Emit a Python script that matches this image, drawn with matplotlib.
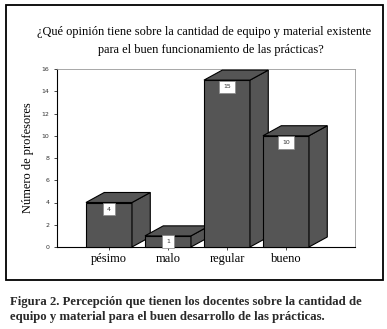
import matplotlib
matplotlib.use("Agg")
import matplotlib.pyplot as plt
from matplotlib.patches import Polygon, Rectangle

categories = ["pésimo", "malo", "regular", "bueno"]
values = [4, 1, 15, 10]
yticks = [0, 2, 4, 6, 8, 10, 12, 14, 16]
title_lines = ["¿Qué opinión tiene sobre la cantidad de equipo y material existente",
               "para el buen funcionamiento de las prácticas?"]
caption_lines = ["Figura 2. Percepción que tienen los docentes sobre la cantidad de",
                 "equipo y material para el buen desarrollo de las prácticas."]
ylabel = "Número de profesores"

W, H = 387, 329
fig = plt.figure(figsize=(W / 100, H / 100), dpi=100)
fig.patch.set_facecolor("white")

# outer border
fig.add_artist(Rectangle((6 / W, 1 - 280 / H), (383 - 6) / W, (280 - 5) / H,
                         transform=fig.transFigure, fill=False, ec="black", lw=1.3))

ax = fig.add_axes([57 / W, 1 - 247 / H, (355 - 57) / W, (247 - 69) / H])
ax.set_xlim(-0.881, 4.17)
ax.set_ylim(0, 16)

serif = "Liberation Serif"
face = "#555555"
bw = 0.78
dx, dy = 0.31, 0.9
for i, v in enumerate(values):
    x0 = i - bw / 2
    x1 = i + bw / 2
    ax.add_patch(Rectangle((x0, 0), bw, v, fc=face, ec="black", lw=0.8, clip_on=False, zorder=3))
    ax.add_patch(Polygon([(x1, 0), (x1 + dx, dy), (x1 + dx, v + dy), (x1, v)],
                         closed=True, fc=face, ec="black", lw=0.8, clip_on=False, zorder=3))
    ax.add_patch(Polygon([(x0, v), (x0 + dx, v + dy), (x1 + dx, v + dy), (x1, v)],
                         closed=True, fc=face, ec="black", lw=0.8, clip_on=False, zorder=3))
    ly = v - 0.6 if v > 1.5 else v / 2
    ax.text(i, ly, str(v), ha="center", va="center", fontsize=4.5, color="#333333",
            family="DejaVu Sans", zorder=5,
            bbox=dict(boxstyle="square,pad=0.6", fc="white", ec="#888888", lw=0.5))

for s in ["top", "right"]:
    ax.spines[s].set_color("#999999")
    ax.spines[s].set_linewidth(0.6)
for s in ["left", "bottom"]:
    ax.spines[s].set_color("black")
    ax.spines[s].set_linewidth(0.8)

ax.set_yticks(yticks)
ax.set_yticklabels([str(t) for t in yticks], fontsize=4.5, color="#333333", family="DejaVu Sans")
ax.tick_params(axis="y", length=2.5, width=0.5, pad=3)
ax.set_xticks(range(len(categories)))
ax.set_xticklabels(categories, fontsize=9, family=serif)
ax.tick_params(axis="x", length=2, width=0.5, pad=2.5)

fig.text(28 / W, 1 - 157.5 / H, ylabel, rotation=90, ha="center", va="center",
         fontsize=9, family=serif)

fig.text(37 / W, 1 - 32 / H, title_lines[0], ha="left", va="center", fontsize=8.9, family=serif)
fig.text(98 / W, 1 - 50 / H, title_lines[1], ha="left", va="center", fontsize=8.9, family=serif)

fig.text(10 / W, 1 - 302 / H, caption_lines[0], ha="left", va="center", fontsize=9.2,
         family=serif, weight="bold", color="#2a2a2a")
fig.text(10 / W, 1 - 317 / H, caption_lines[1], ha="left", va="center", fontsize=9.2,
         family=serif, weight="bold", color="#2a2a2a")

fig.savefig("out.png", dpi=100, facecolor="white")
